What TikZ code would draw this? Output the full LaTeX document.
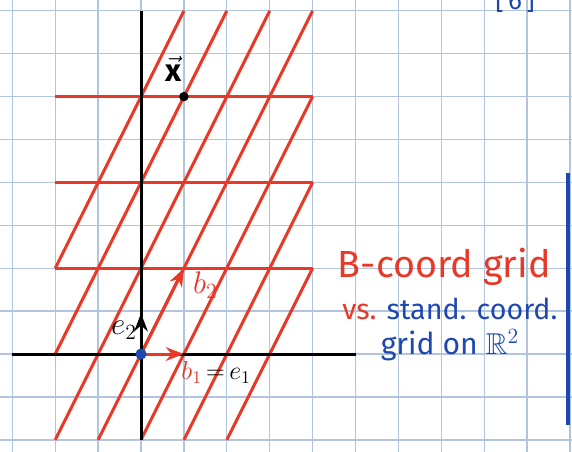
\documentclass[tikz,border=0pt]{standalone}
\usepackage{amsmath,amssymb}
\usepackage{fontspec}
\setmainfont{Fira Sans}
\usetikzlibrary{arrows.meta,positioning}
\definecolor{gridblue}{RGB}{178,196,222}
\definecolor{penred}{RGB}{232,56,40}
\definecolor{penblue}{RGB}{30,72,176}

\begin{document}
\begin{tikzpicture}[>=Stealth,font=\LARGE,
 paper/.style={draw=gridblue,line width=0.9pt},
 axis/.style={draw=black,line width=2pt},
 lattice/.style={draw=penred,line width=2pt},
 vec/.style={->,line width=2pt},
 veclab/.style={font=\huge,inner sep=1pt},
 redtxt/.style={text=penred,inner sep=1pt},
 bluetxt/.style={text=penblue,inner sep=1pt,font=\fontsize{19}{23}\selectfont}]
\useasboundingbox (-3.287,-2.261) rectangle (10.046,8.252);
\clip (-3.287,-2.261) rectangle (10.046,8.252);
\draw[paper] (-3.5,-2.5) grid (10.5,8.5);
% B-coordinate grid
\draw[lattice] (-2,2)--(4,2);\draw[lattice] (-2,4)--(4,4);\draw[lattice] (-2,6)--(4,6);
\draw[lattice] (-2,2)--(1,8);\draw[lattice] (-2,0)--(2,8);\draw[lattice] (-2,-2)--(3,8);
\draw[lattice] (-1,-2)--(4,8);\draw[lattice] (0,-2)--(4,6);\draw[lattice] (1,-2)--(4,4);
\draw[lattice] (2,-2)--(4,2);
% standard axes
\draw[axis] (-3,0)--(5,0);\draw[axis] (0,-2)--(0,8);
\coordinate (o) at (0,0);\coordinate (b1) at (1,0);\coordinate (b2) at (1,2);
\coordinate (e2) at (0,0.95);\coordinate (x) at (1,6);
\draw[vec,penred] (o)--(b1);\draw[vec,penred] (o)--(b2);\draw[vec] (o)--(e2);
\fill[penblue] (o) circle (0.13);\fill[black] (x) circle (0.11);
\node[veclab] (xlab) at (0.75,6.65) {$\vec{\mathbf{x}}$};
\node[veclab] (e2lab) at (-0.4,0.56) {$e_2$};
\node[veclab,text=penred] (b2lab) at (1.5,1.6) {$b_2$};
\node (b1lab) at (1.75,-0.42) {\textcolor{penred}{$b_1$}$\,{=}\,e_1$};
% side note
\node[redtxt,font=\fontsize{25}{30}\selectfont] (title) at (7.07,2.04) {B-coord grid};
\node[bluetxt] (vs) at (7.2,1.06) {\textcolor{penred}{vs.} stand. coord.};
\node[bluetxt,font=\fontsize{20}{24}\selectfont,below=1.5mm of vs] (on) {grid on $\mathbb{R}^2$};
\node[bluetxt,font=\LARGE] (page) at (8.72,8.25) {[\,6\,]};
\coordinate (bar top) at (9.95,4.23);\coordinate (bar bot) at (9.95,-1.65);
\draw[penblue,line width=2.2pt] (bar top)--(bar bot);
\end{tikzpicture}
\end{document}
